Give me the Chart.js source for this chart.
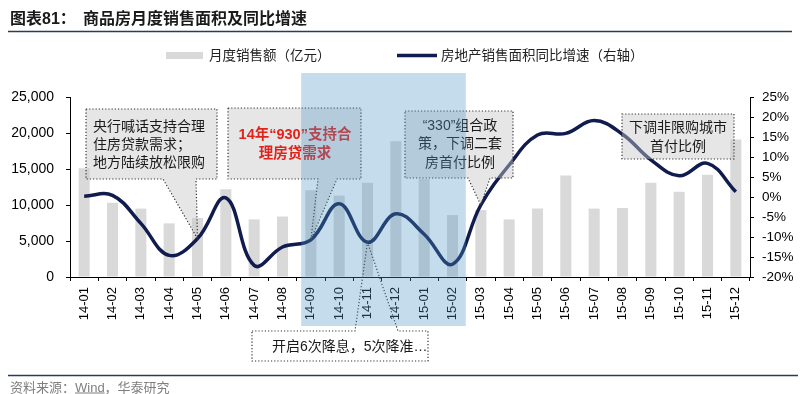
<!DOCTYPE html>
<html><head><meta charset="utf-8">
<script src="https://cdn.jsdelivr.net/npm/chart.js@4"></script>
<style>html,body{margin:0;padding:0;background:#fff}#wrap{width:800px;height:394px}</style>
</head><body><div id="wrap"><canvas id="c" width="800" height="394"></canvas></div>
<script>
// ---- data ----
const months = ['14-01','14-02','14-03','14-04','14-05','14-06','14-07','14-08','14-09','14-10','14-11','14-12',
                '15-01','15-02','15-03','15-04','15-05','15-06','15-07','15-08','15-09','15-10','15-11','15-12'];
const salesValue = [15100,10300,9500,7450,8200,12200,8000,8400,12050,11300,13100,18850,
                    13600,8600,9300,8000,9500,14100,9500,9600,13100,11850,14200,19100];
const areaGrowth = [0.2,0.4,-6.6,-14.6,-10.4,-0.2,-17.1,-12.5,-10.7,-1.7,-11.3,-4.2,
                    -9.3,-16.8,-2.0,8.0,15.5,15.9,19.1,15.7,9.3,5.3,8.4,1.3];
const leftTickStep = 5000;
const rightTickStep = 5;
const barLabel = '月度销售额（亿元）';
const lineLabel = '房地产销售面积同比增速（右轴）';
const titleNo = '图表81：';
const titleMain = '商品房月度销售面积及同比增速';
const sourcePre = '资料来源：';
const sourceWind = 'Wind';
const sourcePost = '，华泰研究';
const note1 = ['央行喊话支持合理','住房贷款需求；','地方陆续放松限购'];
const note2 = ['14年“930”支持合','理房贷需求'];
const note3 = ['开启6次降息，5次降准…'];
const note4 = ['“330”组合政','策，下调二套','房首付比例'];
const note5 = ['下调非限购城市','首付比例'];

const FAM = '"Liberation Sans", Arial, "Noto Sans CJK SC", sans-serif';
const CJK = '"Liberation Sans", "Noto Sans CJK SC", sans-serif';
const NAVY = '#101c4e';
const BAR = '#d9d9d9';
const RULE = '#2b3d55';

function callout(ctx, x0, y0, x1, y1, tail, fill) {
  ctx.save();
  ctx.beginPath();
  ctx.moveTo(x0, y0);
  if (tail && tail.side === 'top') { ctx.lineTo(tail.b0, y0); ctx.lineTo(tail.tx, tail.ty); ctx.lineTo(tail.b1, y0); }
  ctx.lineTo(x1, y0);
  ctx.lineTo(x1, y1);
  if (tail && tail.side === 'bottom') { ctx.lineTo(tail.b1, y1); ctx.lineTo(tail.tx, tail.ty); ctx.lineTo(tail.b0, y1); }
  ctx.lineTo(x0, y1);
  ctx.closePath();
  if (fill) { ctx.fillStyle = fill; ctx.fill(); }
  ctx.setLineDash([1.2, 2]);
  ctx.lineWidth = 1.2;
  ctx.strokeStyle = '#333';
  ctx.stroke();
  ctx.restore();
}
function lines(ctx, arr, x, y, lh, align, font, color) {
  ctx.save();
  ctx.font = font; ctx.fillStyle = color; ctx.textAlign = align; ctx.textBaseline = 'middle';
  arr.forEach((t, i) => ctx.fillText(t, x, y + i * lh));
  ctx.restore();
}

const deco = {
  id: 'deco',
  beforeDraw(chart) {
    const ctx = chart.ctx;
    ctx.save();
    ctx.fillStyle = '#fff'; ctx.fillRect(0, 0, 800, 394);
    // title
    ctx.fillStyle = '#1a1a1a'; ctx.textBaseline = 'middle';
    ctx.font = 'bold 16px ' + CJK;
    ctx.fillText(titleNo, 10, 20);
    ctx.fillText(titleMain, 83, 20);
    ctx.strokeStyle = RULE; ctx.lineWidth = 1.5;
    ctx.beginPath(); ctx.moveTo(8, 31.5); ctx.lineTo(792, 31.5); ctx.stroke();
    // legend
    const ds = chart.data.datasets;
    ctx.fillStyle = ds[0].backgroundColor; ctx.fillRect(166, 52, 37, 7);
    ctx.fillStyle = '#222'; ctx.font = '13.5px ' + CJK;
    ctx.fillText(ds[0].label, 209, 56);
    ctx.strokeStyle = ds[1].borderColor; ctx.lineWidth = 3.5;
    ctx.beginPath(); ctx.moveTo(397, 55.5); ctx.lineTo(437, 55.5); ctx.stroke();
    ctx.fillText(ds[1].label, 441, 56);
    // footer
    ctx.strokeStyle = RULE; ctx.lineWidth = 1.5;
    ctx.beginPath(); ctx.moveTo(8, 375.5); ctx.lineTo(798, 375.5); ctx.stroke();
    ctx.fillStyle = '#7f7f7f'; ctx.font = '13px ' + CJK;
    let fx = 10;
    ctx.fillText(sourcePre, fx, 388); fx += ctx.measureText(sourcePre).width;
    const ww = ctx.measureText(sourceWind).width;
    ctx.fillText(sourceWind, fx, 388);
    ctx.fillRect(fx, 394 - 1.5, ww, 1);
    fx += ww;
    ctx.fillText(sourcePost, fx, 388);
    ctx.restore();
  },
  afterDraw(chart) {
    const ctx = chart.ctx, xs = chart.scales.x;
    const meta = chart.getDatasetMeta(1);
    const pt = i => meta.data[i];
    const GF = 'rgba(200,200,200,0.45)';
    const TXT = '14px ' + CJK;
    // note 1
    callout(ctx, 86, 109, 217, 179, {side:'bottom', b0:163, b1:196, tx:pt(4).x, ty:pt(4).y}, GF);
    lines(ctx, note1, 93, 127, 18, 'left', TXT, '#1a1a1a');
    // note 2
    callout(ctx, 228, 108, 361, 179, {side:'bottom', b0:318, b1:337, tx:pt(8).x, ty:pt(8).y}, GF);
    lines(ctx, note2, 295, 135, 19, 'center', 'bold 14.5px ' + CJK, '#e2231a');
    // note 3
    callout(ctx, 252, 331, 428, 361, {side:'top', b0:355, b1:398, tx:pt(10).x, ty:pt(10).y}, null);
    lines(ctx, note3, 272, 347, 18, 'left', TXT, '#1a1a1a');
    // note 4
    callout(ctx, 405, 111, 513, 178, {side:'bottom', b0:468, b1:490, tx:pt(14).x, ty:pt(14).y}, GF);
    lines(ctx, note4, 460, 126, 18.5, 'center', TXT, '#1a1a1a');
    // note 5
    callout(ctx, 622, 114, 734, 159, null, GF);
    lines(ctx, note5, 678, 128, 19, 'center', TXT, '#1a1a1a');
    // highlighted period overlay
    const w = xs.getPixelForValue(1) - xs.getPixelForValue(0);
    const L = xs.getPixelForValue(8) - 0.34 * w;
    const R = xs.getPixelForValue(13) + 0.47 * w;
    ctx.save();
    ctx.fillStyle = 'rgba(80,149,197,0.33)';
    ctx.fillRect(L, 73, R - L, 326 - 73);
    ctx.restore();
  }
};

const axisGrid = {display:true, drawOnChartArea:false, drawTicks:true, tickLength:4, color:'#000', lineWidth:1};
new Chart(document.getElementById('c'), {
  data: {
    labels: months,
    datasets: [
      {type:'bar', label:barLabel, data:salesValue, yAxisID:'y', backgroundColor:BAR,
       barPercentage:0.39, categoryPercentage:1, order:2},
      {type:'line', label:lineLabel, data:areaGrowth, yAxisID:'y1', borderColor:NAVY, borderWidth:3.5,
       pointRadius:0, tension:0.4, fill:false, order:1}
    ]
  },
  options: {
    responsive:false, animation:false, devicePixelRatio:1,
    layout:{padding:{top:97, left:0, right:0, bottom:0}},
    plugins:{legend:{display:false}, tooltip:{enabled:false}},
    scales: {
      x: {type:'category', offset:true, grid:Object.assign({offset:true}, axisGrid), border:{display:true, color:'#000'},
          ticks:{minRotation:90, maxRotation:90, autoSkip:false, padding:6, color:'#000', font:{size:13, family:FAM}},
          afterFit(s){ s.height = 117; }},
      y: {position:'left', min:0, max:25000, grid:axisGrid, border:{display:true, color:'#000'},
          ticks:{stepSize:leftTickStep, padding:12, color:'#000', font:{size:14, family:FAM},
                 callback:v => v.toLocaleString('en-US')},
          afterFit(s){ s.width = 70; }},
      y1: {position:'right', min:-20, max:25, grid:axisGrid, border:{display:true, color:'#000'},
          ticks:{stepSize:rightTickStep, padding:8, color:'#000', font:{size:13.5, family:FAM},
                 callback:v => v + '%'},
          afterFit(s){ s.width = 50; }}
    }
  },
  plugins:[deco]
});
</script>
</body></html>
